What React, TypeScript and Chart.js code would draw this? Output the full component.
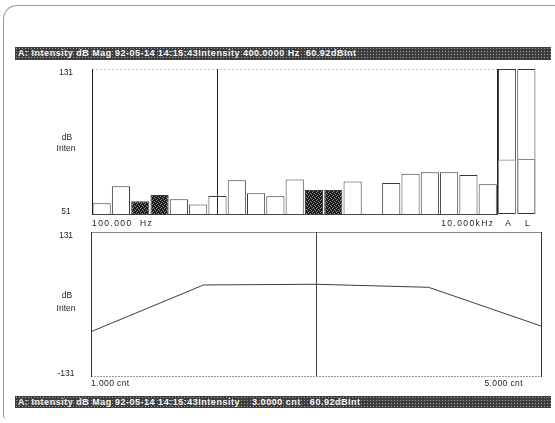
import React, { useEffect, useRef } from "react";
import { Chart, registerables } from "chart.js";

Chart.register(...registerables);

// ---- data -------------------------------------------------------------
const bandLabels = [
  "100", "125", "160", "200", "250", "315", "400", "500", "630", "800",
  "1k", "1.25k", "1.6k", "2k", "2.5k", "3.15k", "4k", "5k", "6.3k", "8k", "10k",
];
// 1/3-octave band intensity (dB); 2.5k band is below the display floor
const bandLevels: (number | null)[] = [
  56.9, 66.3, 58.0, 61.5, 59.1, 56.3, 60.9, 69.6, 62.4, 60.8,
  70.1, 64.2, 64.2, 69.0, null, 68.1, 73.2, 74.0, 74.0, 72.5, 67.4,
];
const summaryLabels = ["A", "L"];
const summaryLevels = [81.1, 81.3];
const shadedBands = ["160", "200", "1.25k", "1.6k"];
const cursorBand = "400";
const topRange = [51, 131];
const topFreqLabels = ["100.000  Hz", "10.000kHz"];

const countX = [1, 2, 3, 4, 5];
const countLevels = [-50.4, 34.6, 35.9, 30.4, -40.0];
const bottomRange = [-131, 131];
const cursorCount = 3;
const countLabels = ["1.000 cnt", "5.000 cnt"];

const unitLabels = ["dB", "Inten"];
const headerTop = "A: Intensity dB Mag 92-05-14 14:15:43Intensity 400.0000 Hz  60.92dBInt";
const headerBottom = "A: Intensity dB Mag 92-05-14 14:15:43Intensity    3.0000 cnt   60.92dBInt";

// ---- helpers ----------------------------------------------------------
function makeStipple(base: string, dot: string) {
  const c = document.createElement("canvas");
  c.width = 4;
  c.height = 4;
  const g = c.getContext("2d")!;
  g.fillStyle = base;
  g.fillRect(0, 0, 4, 4);
  g.fillStyle = dot;
  [[0, 0], [2, 1], [1, 3], [3, 2]].forEach(([x, y]) => g.fillRect(x, y, 1, 1));
  return g.createPattern(c, "repeat")!;
}

const LABEL_FONT = '8.5px "Liberation Sans", Arial, sans-serif';
const AXIS_FONT = '8.5px "Liberation Sans", Arial, sans-serif';

function px(v: number) {
  return Math.round(v) + 0.5;
}

function hline(ctx: CanvasRenderingContext2D, x1: number, x2: number, y: number) {
  ctx.beginPath();
  ctx.moveTo(x1, px(y));
  ctx.lineTo(x2, px(y));
  ctx.stroke();
}
function vline(ctx: CanvasRenderingContext2D, x: number, y1: number, y2: number) {
  ctx.beginPath();
  ctx.moveTo(px(x), y1);
  ctx.lineTo(px(x), y2);
  ctx.stroke();
}

function drawUnits(ctx: CanvasRenderingContext2D, yTop: number, yBot: number, r1: number, r2: number, lo: number, hi: number) {
  ctx.font = LABEL_FONT;
  ctx.fillStyle = "#222";
  ctx.textAlign = "center";
  ctx.textBaseline = "middle";
  (ctx as any).letterSpacing = "0px";
  ctx.fillText(String(hi), 66, yTop + 4);
  ctx.fillText(String(lo), 66, yBot - 2);
  const h = yBot - yTop;
  ctx.fillText(unitLabels[0], 67, yTop + h * r1);
  ctx.fillText(unitLabels[1], 66, yTop + h * r2);
}

const topFrame = {
  id: "topFrame",
  afterDatasetsDraw(chart: any) {
    const { ctx, chartArea: a, scales } = chart;
    const x = scales.x;
    const y = scales.y;
    const half = (x.getPixelForValue(1) - x.getPixelForValue(0)) / 2;
    const mainRight = x.getPixelForValue(bandLabels.length - 1) + half;
    const yTop = y.getPixelForValue(topRange[1]);
    const yBot = y.getPixelForValue(topRange[0]);
    ctx.save();
    ctx.lineWidth = 1;
    ctx.strokeStyle = "#c4c4c4";
    ctx.setLineDash([2, 2]);
    hline(ctx, a.left, mainRight, yTop);
    ctx.setLineDash([]);
    ctx.strokeStyle = "#444";
    hline(ctx, a.left, mainRight, yBot);
    ctx.strokeStyle = "#222";
    vline(ctx, a.left, yTop, yBot + 1);
    vline(ctx, mainRight, yTop, yBot + 1);
    const cx = x.getPixelForValue(bandLabels.indexOf(cursorBand));
    vline(ctx, cx, yTop, yBot);

    drawUnits(ctx, yTop, yBot, 0.475, 0.55, topRange[0], topRange[1]);

    ctx.font = AXIS_FONT;
    ctx.fillStyle = "#222";
    ctx.textBaseline = "middle";
    (ctx as any).letterSpacing = "1.4px";
    ctx.textAlign = "left";
    ctx.fillText(topFreqLabels[0], a.left, yBot + 10);
    ctx.textAlign = "right";
    ctx.fillText(topFreqLabels[1], mainRight - 3, yBot + 10);
    (ctx as any).letterSpacing = "0px";
    ctx.textAlign = "center";
    summaryLabels.forEach((l, i) => {
      ctx.fillText(l, x.getPixelForValue(bandLabels.length + i) + 1, yBot + 10);
    });
    ctx.restore();
  },
};

const bottomFrame = {
  id: "bottomFrame",
  beforeDatasetsDraw(chart: any) {
    const { ctx, chartArea: a, scales } = chart;
    const x = scales.x;
    const y = scales.y;
    const yTop = y.getPixelForValue(bottomRange[1]);
    const yBot = y.getPixelForValue(bottomRange[0]);
    ctx.save();
    ctx.lineWidth = 1;
    ctx.strokeStyle = "#8a8a8a";
    hline(ctx, a.left, a.right, yTop);
    ctx.strokeStyle = "#9a9a9a";
    ctx.setLineDash([2, 1]);
    hline(ctx, a.left, a.right, yBot);
    ctx.setLineDash([]);
    ctx.strokeStyle = "#333";
    vline(ctx, a.left, yTop, yBot + 1);
    vline(ctx, a.right, yTop, yBot + 1);
    ctx.strokeStyle = "#444";
    vline(ctx, x.getPixelForValue(cursorCount), yTop, yBot);
    ctx.restore();
  },
  afterDatasetsDraw(chart: any) {
    const { ctx, chartArea: a, scales } = chart;
    const y = scales.y;
    const yTop = y.getPixelForValue(bottomRange[1]);
    const yBot = y.getPixelForValue(bottomRange[0]);
    ctx.save();
    drawUnits(ctx, yTop, yBot, 0.44, 0.535, bottomRange[0], bottomRange[1]);
    ctx.font = AXIS_FONT;
    ctx.fillStyle = "#222";
    ctx.textBaseline = "middle";
    (ctx as any).letterSpacing = "0.4px";
    ctx.textAlign = "left";
    ctx.fillText(countLabels[0], a.left, yBot + 8);
    ctx.textAlign = "right";
    ctx.fillText(countLabels[1], a.right - 18, yBot + 8);
    ctx.restore();
  },
};

const headerStyle = (top: number, height: number): React.CSSProperties => ({
  position: "absolute",
  left: 15,
  top,
  width: 536,
  height,
  lineHeight: `${height}px`,
  backgroundColor: "#3e3e3e",
  backgroundImage: "radial-gradient(circle, #a0a0a0 0.55px, transparent 0.9px)",
  backgroundSize: "3px 3px",
  color: "#f4f4f4",
  fontFamily: '"Liberation Sans", Arial, sans-serif',
  fontWeight: 700,
  fontSize: 9,
  letterSpacing: "0.52px",
  whiteSpace: "pre",
  paddingLeft: 3,
  boxSizing: "border-box",
  overflow: "hidden",
});

export default function App() {
  const topRef = useRef<HTMLCanvasElement>(null);
  const botRef = useRef<HTMLCanvasElement>(null);

  useEffect(() => {
    const dark = makeStipple("#1c1c1c", "#8c8c8c");
    const allLabels = [...bandLabels, ...summaryLabels];
    const levels = [...bandLevels, ...summaryLevels];
    const boxes = [
      ...bandLabels.map(() => null),
      ...summaryLabels.map(() => [topRange[0], topRange[1]]),
    ];

    const top = new Chart(topRef.current!, {
      type: "bar",
      data: {
        labels: allLabels,
        datasets: [
          {
            data: levels as any,
            grouped: false,
            order: 1,
            barPercentage: 0.94,
            categoryPercentage: 1,
            backgroundColor: (c: any) => {
              const lbl = allLabels[c.dataIndex];
              if (summaryLabels.includes(lbl)) return "rgba(0,0,0,0)";
              return shadedBands.includes(lbl) ? dark : "#ffffff";
            },
            borderColor: (c: any) =>
              summaryLabels.includes(allLabels[c.dataIndex]) ? "#8a8a8a" : "#3a3a3a",
            borderWidth: 1,
            borderSkipped: "start",
          } as any,
          {
            data: boxes as any,
            grouped: false,
            order: 2,
            barPercentage: 0.94,
            categoryPercentage: 1,
            backgroundColor: "#ffffff",
            borderColor: "#333",
            borderWidth: 1,
            borderSkipped: false,
          } as any,
        ],
      },
      options: {
        responsive: false,
        animation: false,
        events: [],
        layout: { padding: { left: 92, right: 19, top: 69, bottom: 209 } },
        scales: {
          x: { type: "category", display: false, offset: true },
          y: { type: "linear", display: false, min: topRange[0], max: topRange[1] },
        },
        plugins: { legend: { display: false }, tooltip: { enabled: false } },
      },
      plugins: [topFrame],
    });

    const bottom = new Chart(botRef.current!, {
      type: "line",
      data: {
        datasets: [
          {
            data: countX.map((x, i) => ({ x, y: countLevels[i] })),
            borderColor: "#3c3c3c",
            borderWidth: 1,
            pointRadius: 0,
            tension: 0,
            fill: false,
          },
        ],
      },
      options: {
        responsive: false,
        animation: false,
        events: [],
        layout: { padding: { left: 91, right: 14, top: 232, bottom: 47 } },
        scales: {
          x: { type: "linear", display: false, min: countX[0], max: countX[countX.length - 1] },
          y: { type: "linear", display: false, min: bottomRange[0], max: bottomRange[1] },
        },
        plugins: { legend: { display: false }, tooltip: { enabled: false } },
      },
      plugins: [bottomFrame],
    });

    return () => {
      top.destroy();
      bottom.destroy();
    };
  }, []);

  return (
    <div
      style={{
        position: "absolute",
        left: 0,
        top: 0,
        width: 555,
        height: 423,
        background: "#ffffff",
        overflow: "hidden",
      }}
    >
      <div
        style={{
          position: "absolute",
          left: 3,
          top: 5,
          width: 620,
          height: 413,
          borderTop: "1px solid #9a9a9a",
          borderLeft: "1px solid #9a9a9a",
          borderTopLeftRadius: 14,
          borderBottomLeftRadius: 4,
        }}
      />
      <div style={headerStyle(47, 13)}>{headerTop}</div>
      <div style={headerStyle(396, 12)}>{headerBottom}</div>
      <canvas ref={topRef} width={555} height={423} style={{ position: "absolute", left: 0, top: 0 }} />
      <canvas ref={botRef} width={555} height={423} style={{ position: "absolute", left: 0, top: 0 }} />
    </div>
  );
}
